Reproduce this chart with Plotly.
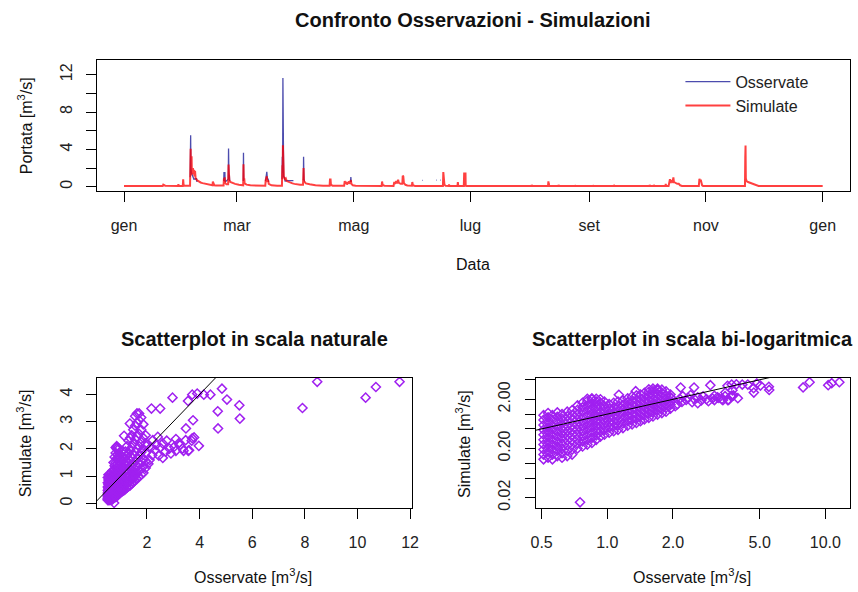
import pandas as pd
import plotly.graph_objects as go

FONT = "Liberation Sans, Arial, sans-serif"
W, H = 858, 592
START = pd.Timestamp("2013-01-01")

# ---------------------------------------------------------------
# Hydrograph data: (day of year, discharge m3/s) knots
# ---------------------------------------------------------------
sim_winter = [
    (0, 0.07), (20.2, 0.07), (20.5, 0.22), (21.0, 0.18), (21.5, 0.1), (28.2, 0.08), (28.4, 0.25),
    (28.6, 0.09), (30.7, 0.08), (30.9, 0.78), (31.1, 0.2), (31.6, 0.1), (34.5, 0.1), (34.8, 4.06),
    (34.95, 1.2), (35.1, 1.6), (35.3, 3.27), (35.45, 1.4), (35.6, 2.2), (35.8, 1.5), (36.0, 2.0),
    (36.2, 1.3), (36.5, 1.8), (36.8, 1.1), (37.1, 1.7), (37.4, 0.9), (38.0, 0.7), (39, 0.55),
    (40, 0.45), (41, 0.38), (42, 0.32), (43, 0.27), (44, 0.22), (45, 0.18), (46.2, 0.15),
    (46.4, 0.55), (46.7, 0.3), (47.2, 0.15), (48, 0.12), (50, 0.1), (52.0, 0.12), (52.2, 0.9),
    (52.4, 0.6), (52.6, 1.0), (52.8, 0.4), (53.5, 0.25), (54.4, 0.25), (54.6, 2.38), (54.8, 0.9),
    (55.0, 0.7), (55.5, 0.5), (56.5, 0.4), (58, 0.3), (60, 0.2), (62.25, 0.15), (62.4, 2.4),
    (62.55, 0.8), (62.8, 0.9), (63.0, 0.35), (64, 0.22), (66, 0.15), (70, 0.1),
]
sim_spring = [
    (73.8, 0.1), (74.0, 0.7), (74.3, 0.9), (74.6, 1.1), (74.9, 0.5), (75.3, 0.7), (75.6, 0.3),
    (77, 0.15), (80, 0.1), (82.5, 0.1), (82.7, 2.3), (82.85, 1.0), (83.0, 4.45), (83.2, 1.5),
    (83.5, 1.0), (84, 0.8), (84.5, 0.9), (85, 0.6), (86, 0.5), (87, 0.45), (88, 0.35), (89, 0.3),
    (90, 0.25), (92, 0.2), (93.5, 0.2), (93.6, 1.5), (93.7, 0.6), (93.8, 2.0), (94.0, 0.6),
    (94.5, 0.45), (95, 0.35), (97, 0.25), (100, 0.15), (104, 0.1), (107.4, 0.1), (107.6, 0.78),
    (107.9, 0.78), (108.1, 0.2), (109, 0.1), (115.0, 0.1), (115.3, 0.6), (115.6, 0.3), (116, 0.5),
    (116.5, 0.25), (117.5, 0.55), (117.8, 0.3), (118.5, 0.7), (118.8, 0.3), (119.5, 0.15),
    (121, 0.1), (134.6, 0.08), (134.8, 0.55), (135.1, 0.2), (136, 0.1), (140.8, 0.08),
    (141.2, 0.5), (141.6, 0.3), (142.2, 0.6), (142.6, 0.35), (143.2, 0.75), (143.6, 0.4),
    (144.5, 0.3), (145.4, 0.3), (145.6, 1.17), (145.9, 1.1), (146.2, 0.4), (147, 0.2),
    (148, 0.12), (150.4, 0.1), (150.6, 0.5), (150.9, 0.15), (152, 0.08),
]
sim_summer = [
    (166.6, 0.08), (166.8, 1.56), (167.0, 1.0), (167.2, 1.0), (167.4, 0.2), (168, 0.1),
    (169.6, 0.08), (169.8, 0.22), (170, 0.08), (174.2, 0.08), (174.4, 0.5), (174.6, 0.08),
    (177.5, 0.08), (177.7, 1.42), (178.4, 1.42), (178.5, 0.1), (179, 0.08), (212.9, 0.07),
    (213, 0.2), (213.2, 0.07), (221.5, 0.07), (221.7, 0.56), (221.9, 0.3), (222.1, 0.15),
    (222.3, 0.07), (226.9, 0.07), (227, 0.2), (227.2, 0.07), (235.5, 0.07), (235.6, 0.15),
    (235.8, 0.07), (244.9, 0.07), (245, 0.15), (245.2, 0.07), (255.9, 0.07), (256, 0.2),
    (256.2, 0.07),
]
sim_autumn = [
    (274.5, 0.07), (274.6, 0.2), (274.8, 0.07), (276.7, 0.07), (276.8, 0.2), (277, 0.07),
    (282.9, 0.07), (283, 0.3), (283.2, 0.08), (284.5, 0.08), (285.2, 0.8), (285.5, 0.4),
    (286, 0.6), (286.6, 0.5), (287.0, 1.0), (287.3, 0.5), (287.8, 0.45), (288.3, 0.35),
    (289, 0.3), (289.8, 0.3), (290.5, 0.15), (291.5, 0.08), (300.3, 0.08), (300.6, 0.85),
    (300.9, 0.55), (301.3, 0.75), (301.6, 0.35), (302, 0.15), (302.5, 0.08), (324.4, 0.08),
    (324.55, 3.1), (324.7, 4.41), (324.85, 0.9), (325.2, 0.6), (326, 0.5), (327, 0.42),
    (328, 0.38), (329, 0.3), (330.5, 0.15), (331.5, 0.08), (365, 0.07),
]

# observed discharge is only available in short stretches
obs_feb = [(34.55, 1.0), (34.8, 5.5), (34.95, 2.0), (35.2, 1.5), (35.6, 1.3), (36.0, 1.2),
           (36.5, 0.8), (37.7, 0.85), (37.9, 0.85), (38.1, 0.5)]
obs_late_feb = [(52.1, 0.6), (52.2, 1.49), (52.7, 1.49), (52.8, 0.5), (54.45, 0.8), (54.6, 4.09),
                (54.8, 1.2), (55.0, 1.3), (55.2, 0.6)]
obs_mar = [(62.3, 0.6), (62.4, 3.63), (62.55, 0.7)]
obs_mid_mar = [(73.9, 0.6), (74.3, 1.4), (74.6, 1.6), (74.9, 0.8), (75.3, 0.8), (75.5, 0.5)]
obs_late_mar = [(82.55, 0.8), (82.7, 3.2), (82.85, 1.5), (83.0, 11.64), (83.2, 2.0), (83.4, 1.1),
                (83.8, 1.0), (84.2, 0.6), (84.8, 0.65), (88.5, 0.65)]
obs_apr = [(93.55, 0.8), (93.6, 1.6), (93.7, 0.7), (93.8, 3.2), (94.0, 0.8), (94.3, 0.55)]
obs_late_apr = [(118.3, 0.5), (118.5, 1.03), (118.7, 0.5)]
obs_jun_a = [(155.9, 0.67), (156.2, 0.67)]
obs_jun_b = [(163.0, 0.7), (163.3, 0.7)]
obs_jun_c = [(165.2, 0.7), (165.5, 0.7)]

# ---------------------------------------------------------------
# Scatter data: observed value and the simulated values paired with it
# ---------------------------------------------------------------
cols_low = [
    (0.51, [0.12, 0.15, 0.19, 0.24, 0.3, 0.38, 0.48, 0.6, 0.76, 0.95]),
    (0.535, [0.13, 0.17, 0.21, 0.27, 0.34, 0.43, 0.54, 0.68, 0.86, 1.05]),
    (0.56, [0.12, 0.15, 0.19, 0.24, 0.3, 0.38, 0.48, 0.6, 0.76, 0.95]),
    (0.59, [0.14, 0.18, 0.22, 0.28, 0.35, 0.44, 0.55, 0.7, 0.88, 1.08]),
    (0.62, [0.13, 0.16, 0.2, 0.25, 0.32, 0.4, 0.5, 0.63, 0.8, 1.0]),
    (0.655, [0.14, 0.18, 0.23, 0.29, 0.36, 0.45, 0.57, 0.72, 0.9, 1.12]),
    (0.69, [0.15, 0.19, 0.24, 0.3, 0.38, 0.48, 0.6, 0.76, 0.95, 1.2]),
    (0.73, [0.2, 0.25, 0.31, 0.39, 0.49, 0.62, 0.78, 0.98, 1.22, 1.5]),
    (0.77, [0.22, 0.28, 0.35, 0.44, 0.55, 0.69, 0.87, 1.1, 1.38, 1.7]),
]
cols_mid = [
    (0.81, [0.24, 0.3, 0.38, 0.48, 0.6, 0.75, 0.95, 1.2, 1.5, 1.85, 2.05]),
    (0.85, [0.26, 0.33, 0.42, 0.53, 0.66, 0.83, 1.05, 1.3, 1.65, 2.0, 2.1]),
    (0.89, [0.3, 0.37, 0.47, 0.59, 0.74, 0.93, 1.17, 1.45, 1.8, 2.05]),
    (0.93, [0.35, 0.44, 0.55, 0.69, 0.86, 1.08, 1.35, 1.7, 2.0]),
    (0.97, [0.38, 0.48, 0.6, 0.75, 0.94, 1.17, 1.46, 1.8]),
    (1.02, [0.42, 0.53, 0.66, 0.82, 1.02, 1.28, 1.6]),
    (1.07, [0.45, 0.56, 0.7, 0.87, 1.09, 1.36, 1.7]),
    (1.12, [0.48, 0.6, 0.75, 0.93, 1.16, 1.45, 1.8]),
    (1.18, [0.52, 0.65, 0.81, 1.0, 1.25, 1.55, 1.9]),
    (1.24, [0.58, 0.72, 0.9, 1.12, 1.4, 1.75, 2.1]),
]
cols_high = [
    (1.3, [0.62, 0.77, 0.96, 1.2, 1.5, 1.85, 2.3]),
    (1.36, [0.66, 0.82, 1.02, 1.27, 1.58, 1.95, 2.4]),
    (1.42, [0.72, 0.9, 1.1, 1.36, 1.68, 2.05, 2.5]),
    (1.48, [0.78, 0.96, 1.18, 1.45, 1.78, 2.2, 2.7]),
    (1.55, [0.84, 1.03, 1.26, 1.55, 1.9, 2.35, 2.85, 3.2]),
    (1.62, [0.9, 1.1, 1.35, 1.65, 2.0, 2.45, 2.95, 3.3]),
    (1.7, [0.98, 1.2, 1.45, 1.75, 2.1, 2.55, 3.05, 3.3]),
    (1.78, [1.05, 1.28, 1.55, 1.88, 2.25, 2.7, 3.15]),
    (1.86, [1.12, 1.36, 1.65, 2.0, 2.4, 2.9]),
    (1.95, [1.3, 1.55, 1.85, 2.2, 2.5]),
]
spread_obs = [1.13, 1.35, 1.97, 2.22, 2.41, 2.6, 2.85, 3.1, 3.35, 3.6, 3.72, 3.97, 2.2, 2.6,
              2.91, 3.25, 3.47, 2.1, 3.04, 2.05, 2.3, 2.45, 2.75, 2.5, 2.15, 2.35, 2.7, 3.1,
              3.39, 3.2, 3.79, 3.7, 3.57, 2.17, 2.5, 2.97, 3.56, 3.72, 3.91, 3.75, 3.48, 4.16,
              4.41, 4.85, 5.04, 4.69, 4.7, 5.51, 5.53, 7.91, 8.47, 10.31, 10.7, 11.6, 0.75]
spread_sim = [2.48, 2.93, 2.11, 2.32, 2.44, 2.2, 2.01, 2.36, 2.01, 1.95, 2.39, 2.11, 1.77, 1.67,
              1.83, 2.13, 2.32, 1.59, 2.08, 1.45, 1.95, 1.75, 2.3, 2.05, 2.05, 2.15, 1.9, 1.93,
              1.93, 2.2, 2.42, 2.3, 1.93, 3.48, 3.48, 3.88, 3.76, 3.99, 4.03, 3.05, 2.75, 3.99,
              3.99, 4.21, 3.81, 3.38, 2.75, 3.6, 3.11, 3.5, 4.46, 3.88, 4.27, 4.46, 0.016]

month_ticks = ["2013-01-01", "2013-03-01", "2013-05-01", "2013-07-01", "2013-09-01",
               "2013-11-01", "2014-01-01"]
month_labels = ["gen", "mar", "mag", "lug", "set", "nov", "gen"]


def knots_to_xy(*segments):
    """Join knot segments into plotting arrays, breaking the line between segments."""
    xs, ys = [], []
    for seg in segments:
        if xs:
            xs.append(None)
            ys.append(None)
        for d, v in seg:
            xs.append(START + pd.Timedelta(days=d))
            ys.append(v)
    return xs, ys


def flatten(*groups):
    ox, sy = [], []
    for grp in groups:
        for o, sims in grp:
            ox.extend([o] * len(sims))
            sy.extend(sims)
    return ox, sy


sim_x, sim_y = knots_to_xy(sim_winter + sim_spring + sim_summer + sim_autumn)
obs_x, obs_y = knots_to_xy(obs_feb, obs_late_feb, obs_mar, obs_mid_mar, obs_late_mar,
                           obs_apr, obs_late_apr, obs_jun_a, obs_jun_b, obs_jun_c)
pt_obs, pt_sim = flatten(cols_low, cols_mid, cols_high)
pt_obs += spread_obs
pt_sim += spread_sim


def px_x(p):
    return p / W


def px_y(p):
    return 1 - p / H


fig = go.Figure()

fig.add_trace(go.Scatter(x=obs_x, y=obs_y, mode="lines", name="Osservate",
                         line=dict(color="rgba(0,0,139,0.7)", width=1.3),
                         connectgaps=False, xaxis="x", yaxis="y"))
fig.add_trace(go.Scatter(x=sim_x, y=sim_y, mode="lines", name="Simulate",
                         line=dict(color="rgba(255,0,0,0.75)", width=2),
                         xaxis="x", yaxis="y"))

marker = dict(symbol="diamond-open", size=7, color="#A020F0",
              line=dict(width=1.5, color="#A020F0"))
for xa, ya in (("x2", "y2"), ("x3", "y3")):
    fig.add_trace(go.Scatter(x=pt_obs, y=pt_sim, mode="markers", marker=marker,
                             showlegend=False, xaxis=xa, yaxis=ya))
    fig.add_trace(go.Scatter(x=[0.001, 100], y=[0.001, 100], mode="lines",
                             line=dict(color="black", width=1), showlegend=False,
                             xaxis=xa, yaxis=ya))

tickfont = dict(family=FONT, size=16, color="#222")
axis_common = dict(showline=True, mirror=True, linecolor="black", linewidth=1,
                   ticks="outside", ticklen=10, tickcolor="black", tickwidth=1,
                   showgrid=False, zeroline=False, tickfont=tickfont, fixedrange=True)
minor_common = dict(ticks="outside", ticklen=10, tickcolor="black", tickwidth=1,
                    showgrid=False)

top_dom_x = [px_x(93.3), px_x(856.7)]
top_dom_y = [px_y(191.7), px_y(60.7)]
bl_dom_x = [px_x(93.3), px_x(412.7)]
br_dom_x = [px_x(538.3), px_x(856.7)]
bot_dom_y = [px_y(510), px_y(379.3)]

fig.update_layout(
    width=W, height=H,
    margin=dict(l=0, r=0, t=0, b=0),
    paper_bgcolor="white", plot_bgcolor="white",
    font=dict(family=FONT, size=16, color="#222"),
    xaxis=dict(domain=top_dom_x, anchor="y", type="date",
               range=["2012-12-17 21:00", "2014-01-15 03:00"],
               tickmode="array", tickvals=month_ticks, ticktext=month_labels,
               ticklabelstandoff=10, **axis_common),
    yaxis=dict(domain=top_dom_y, anchor="x", range=[-0.47, 13.53],
               tickmode="array", tickvals=[0, 4, 8, 12], tickangle=-90,
               minor=dict(tickmode="array", tickvals=[2, 6, 10], **minor_common),
               ticklabelstandoff=8, **axis_common),
    xaxis2=dict(domain=bl_dom_x, anchor="y2", range=[0.1, 12.07],
                tickmode="array", tickvals=[2, 4, 6, 8, 10, 12],
                ticklabelstandoff=10, **axis_common),
    yaxis2=dict(domain=bot_dom_y, anchor="x2", range=[-0.18, 4.6],
                tickmode="array", tickvals=[0, 1, 2, 3, 4], tickangle=-90,
                ticklabelstandoff=8, **axis_common),
    xaxis3=dict(domain=br_dom_x, anchor="y3", type="log", range=[-0.328, 1.112],
                tickmode="array", tickvals=[0.5, 1, 2, 5, 10],
                ticktext=["0.5", "1.0", "2.0", "5.0", "10.0"],
                ticklabelstandoff=10, **axis_common),
    yaxis3=dict(domain=bot_dom_y, anchor="x3", type="log", range=[-1.917, 0.735],
                tickmode="array", tickvals=[0.02, 0.2, 2],
                ticktext=["0.02", "0.20", "2.00"], tickangle=-90,
                minor=dict(tickmode="array", tickvals=[0.05, 0.1, 0.5, 1, 5], **minor_common),
                ticklabelstandoff=8, **axis_common),
    showlegend=True,
    legend=dict(x=px_x(685), y=px_y(65), xanchor="left", yanchor="top",
                bgcolor="rgba(0,0,0,0)", borderwidth=0, tracegroupgap=0,
                font=dict(family=FONT, size=16, color="#222"), itemwidth=45),
)

annotations = [
    ("<b>Confronto Osservazioni - Simulazioni</b>", 475, 20, 0, 20),
    ("Data", 475, 265, 0, 16),
    ("Portata [m<sup>3</sup>/s]", 20, 126, -90, 16),
    ("<b>Scatterplot in scala naturale</b>", 253, 340, 0, 20),
    ("<b>Scatterplot in scala bi-logaritmica</b>", 697, 340, 0, 20),
    ("Osservate [m<sup>3</sup>/s]", 252, 578, 0, 16),
    ("Osservate [m<sup>3</sup>/s]", 697, 578, 0, 16),
    ("Simulate [m<sup>3</sup>/s]", 20, 445, -90, 16),
    ("Simulate [m<sup>3</sup>/s]", 465, 445, -90, 16),
]
fig.update_layout(annotations=[
    dict(text=t, x=px_x(x), y=px_y(y), xref="paper", yref="paper", showarrow=False,
         xanchor="center", yanchor="middle", textangle=a,
         font=dict(family=FONT, size=s, color="#111"))
    for t, x, y, a, s in annotations
])

fig.write_html("out.html")
